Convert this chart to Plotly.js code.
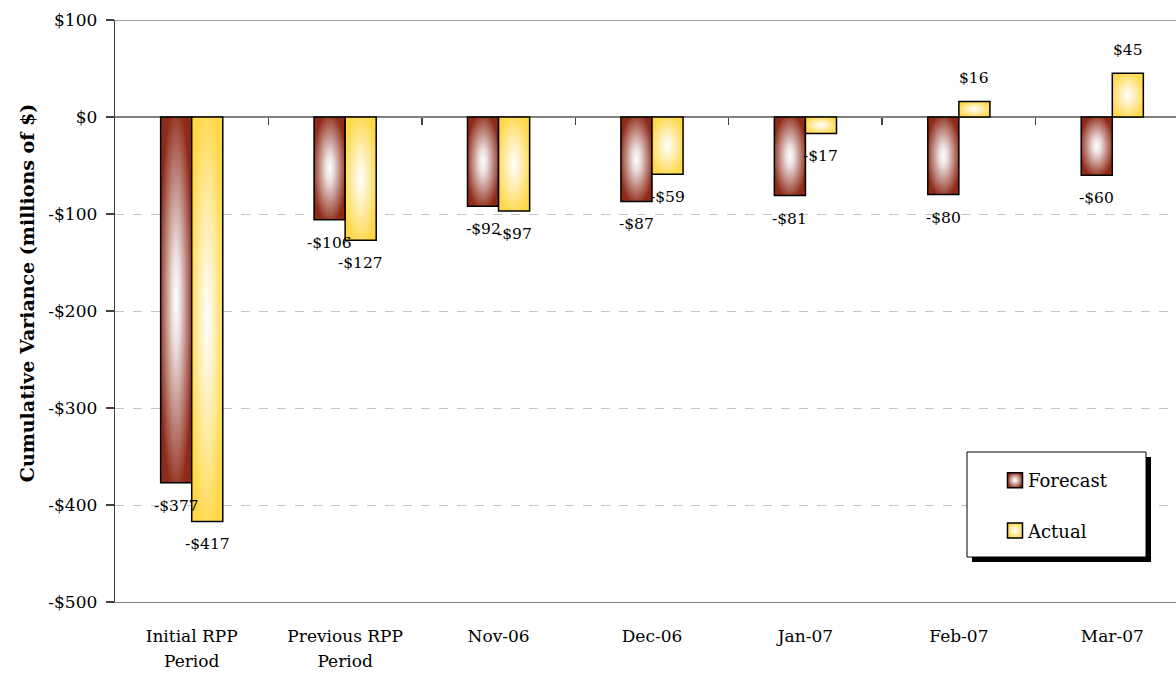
<!DOCTYPE html>
<html>
<head>
<meta charset="utf-8">
<script src="https://cdn.plot.ly/plotly-3.0.1.min.js"></script>
<style>
html,body{margin:0;padding:0;background:#fff;overflow:hidden;}
#chart{width:1190px;height:677px;}
</style>
</head>
<body>
<div id="chart"></div>
<script>
const categories = ['Initial RPP<br>Period','Previous RPP<br>Period','Nov-06','Dec-06','Jan-07','Feb-07','Mar-07'];
const forecast = [-377,-106,-92,-87,-81,-80,-60];
const actual = [-417,-127,-97,-59,-17,16,45];
const yTickVals = [100,0,-100,-200,-300,-400,-500];
const yTickText = ['$100','$0','-$100','-$200','-$300','-$400','-$500'];
const seriesNames = ['Forecast','Actual'];

const fmt = v => (v < 0 ? '-$' : '$') + Math.abs(v);
const FONT = 'DejaVu Serif, Liberation Serif, serif';

const traces = [
  {type:'bar', name:seriesNames[0], x:categories, y:forecast, legendgroup:'f',
   marker:{color:'#902b1a', line:{color:'#000', width:1.5}}, hoverinfo:'none'},
  {type:'bar', name:seriesNames[1], x:categories, y:actual, legendgroup:'a',
   marker:{color:'#ffd84f', line:{color:'#000', width:1.5}}, hoverinfo:'none'},
  {type:'scatter', x:[], y:[], xaxis:'x2', showlegend:false, hoverinfo:'none'}
];

const annotations = [];
[forecast, actual].forEach((arr, si) => {
  arr.forEach((v, i) => {
    annotations.push({
      x: categories[i], y: v, xref:'x', yref:'y', text: fmt(v), showarrow:false,
      xshift: si === 0 ? -15.5 : 15.5, yshift: v < 0 ? -23 : 23,
      font:{family:FONT, size:15.5, color:'#000'}, xanchor:'center', yanchor:'middle'
    });
  });
});

const L = 115, PW = 1074;
const lx0 = (967-L)/PW, lx1 = (1146-L)/PW, ly0 = (602-557)/582, ly1 = (602-452)/582;
const sx = 5/PW, sy = 5/582;

const layout = {
  width:1190, height:677,
  margin:{l:L, r:1, t:20, b:75},
  paper_bgcolor:'#fff', plot_bgcolor:'#fff',
  barmode:'group', bargap:0.595, bargroupgap:0,
  font:{family:FONT, color:'#000'},
  showlegend:true,
  legend:{x:(995-L)/PW, y:(602-462)/582, xanchor:'left', yanchor:'top',
    bgcolor:'rgba(0,0,0,0)', borderwidth:0, traceorder:'grouped', tracegroupgap:24,
    font:{family:FONT, size:18, color:'#000'}, itemwidth:30},
  xaxis:{type:'category', range:[-0.5,6.5], showline:true, linecolor:'#808080', linewidth:1.3,
    ticks:'', showgrid:false, zeroline:false, tickfont:{family:FONT, size:17, color:'#000'},
    ticklabelstandoff:18},
  xaxis2:{overlaying:'x', anchor:'free', position:500/600, side:'top', range:[-0.5,6.5],
    tickvals:[0.5,1.5,2.5,3.5,4.5,5.5], ticks:'inside', ticklen:7, tickcolor:'#404040', tickwidth:1.3,
    showticklabels:false, showgrid:false, showline:false, zeroline:false},
  yaxis:{range:[-500,100], tickvals:yTickVals, ticktext:yTickText, showline:true, linecolor:'#404040',
    linewidth:1.3, ticks:'outside', ticklen:8, tickcolor:'#404040', tickwidth:1.3,
    showgrid:true, gridcolor:'#c4c4c4', griddash:'dash', gridwidth:1,
    zeroline:true, zerolinecolor:'#808080', zerolinewidth:1.3,
    tickfont:{family:FONT, size:17, color:'#000'}, ticklabelstandoff:5,
    title:{text:'Cumulative Variance (millions of $)', font:{family:'DejaVu Serif', size:19, weight:'bold', color:'#000'}, standoff:8}},
  shapes:[
    {type:'line', xref:'paper', yref:'y', x0:0, x1:1, y0:100, y1:100, line:{color:'#808080', width:1.3}},
    {type:'rect', xref:'paper', yref:'paper', x0:lx0+sx, x1:lx1+sx, y0:ly0-sy, y1:ly1-sy, fillcolor:'#000', line:{width:0}},
    {type:'rect', xref:'paper', yref:'paper', x0:lx0, x1:lx1, y0:ly0, y1:ly1, fillcolor:'#fff', line:{color:'#000', width:1}}
  ],
  annotations: annotations
};

function addGradients(gd){
  const svg = gd.querySelector('.main-svg');
  const NS = 'http://www.w3.org/2000/svg';
  let defs = svg.querySelector('defs');
  if(!defs){ defs = document.createElementNS(NS,'defs'); svg.insertBefore(defs, svg.firstChild); }
  const mk = (id, c0, cm, c1) => {
    const g = document.createElementNS(NS,'radialGradient');
    g.setAttribute('id', id);
    g.setAttribute('cx','0.5'); g.setAttribute('cy','0.5'); g.setAttribute('r','0.55');
    [[0,c0],[0.25,cm],[1,c1]].forEach(([o,c]) => {
      const s = document.createElementNS(NS,'stop');
      s.setAttribute('offset', o); s.setAttribute('stop-color', c);
      g.appendChild(s);
    });
    defs.appendChild(g);
  };
  mk('gradF', '#ffffff', '#eadcdc', '#8e2a17');
  mk('gradA', '#ffffff', '#fff6d6', '#ffd84a');
  const ids = ['gradF','gradA'];
  gd.querySelectorAll('.barlayer .trace.bars').forEach((t, i) => {
    t.querySelectorAll('path').forEach(p => { p.style.fill = 'url(#' + ids[i] + ')'; });
  });
  gd.querySelectorAll('.legend .traces').forEach((t, i) => {
    t.querySelectorAll('.legendpoints path').forEach(p => {
      p.style.fill = 'url(#' + ids[i] + ')';
      p.setAttribute('d','M7.5,7.5H-7.5V-7.5H7.5Z');
    });
    const txt = t.querySelector('text.legendtext');
    if (txt) txt.setAttribute('x', parseFloat(txt.getAttribute('x')) - 7);
  });
  gd.querySelectorAll('.xtick text tspan.line').forEach(ts => {
    if (ts.getAttribute('dy') && ts.getAttribute('dy') !== '0em') ts.setAttribute('dy', '1.47em');
  });
  const yt = gd.querySelector('.g-ytitle');
  if (yt) yt.setAttribute('transform', 'translate(0,-18)');
}

Plotly.newPlot('chart', traces, layout, {displayModeBar:false, staticPlot:true}).then(addGradients);
</script>
</body>
</html>
